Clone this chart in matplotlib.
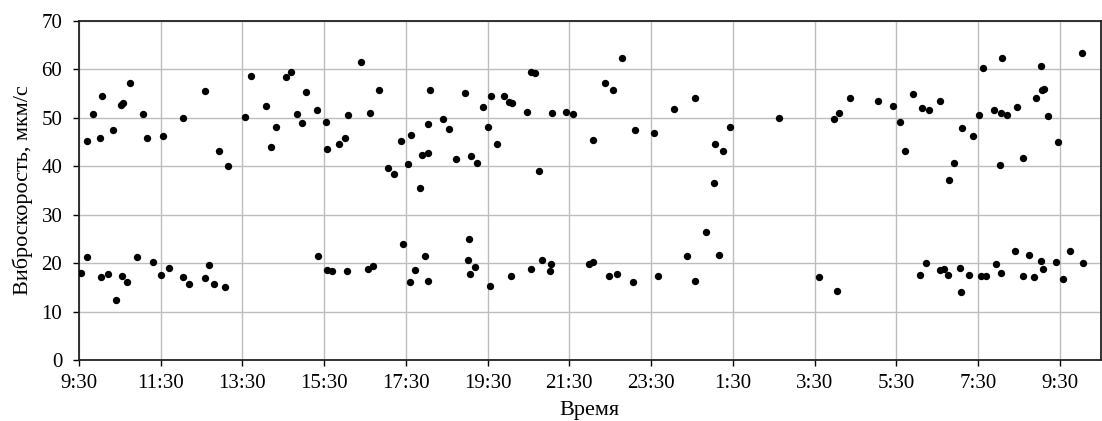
import matplotlib.pyplot as plt
import numpy as np

# hours since 9:30 and vibration velocity values (upper and lower groups)
upper_h = [0.20, 0.34, 0.57, 0.51, 0.82, 1.03, 1.07, 1.26, 1.56, 1.67, 2.06, 2.55, 3.09, 3.43, 3.64,
           4.06, 4.21, 4.57, 4.71, 4.82, 5.07, 5.19, 5.34, 5.46, 5.56, 5.83, 6.05, 6.08, 6.36, 6.50,
           6.58, 6.90, 7.11, 7.35, 7.57, 7.70, 7.87, 8.05, 8.13, 8.34, 8.39, 8.53, 8.54, 8.58, 8.91,
           9.06, 9.23, 9.44, 9.60, 9.73, 9.88, 10.01, 10.09, 10.22, 10.41, 10.53, 10.60, 10.97, 11.07,
           11.15, 11.26, 11.58, 11.92, 12.09, 12.58, 12.86, 13.07, 13.29, 13.61, 14.08, 14.57, 15.08,
           15.54, 15.57, 15.75, 15.94, 17.14, 18.47, 18.59, 18.88, 19.55, 19.91, 20.08, 20.21, 20.42,
           20.64, 20.81, 21.08, 21.28, 21.41, 21.61, 21.89, 22.02, 22.12, 22.39, 22.55, 22.56, 22.60,
           22.70, 22.96, 23.11, 23.42, 23.53, 23.57, 23.62, 23.71, 23.95, 24.55]
upper_v = [45.2, 50.9, 54.6, 45.9, 47.5, 52.6, 53.1, 57.3, 50.7, 45.9, 46.2, 49.9, 55.5, 43.2, 40.1,
           50.2, 58.6, 52.5, 44.0, 48.1, 58.4, 59.5, 50.7, 48.9, 55.3, 51.7, 49.1, 43.6, 44.7, 45.8,
           50.5, 61.6, 51.1, 55.8, 39.6, 38.5, 45.2, 40.5, 46.5, 35.6, 42.3, 48.7, 42.7, 55.7, 49.8,
           47.7, 41.6, 55.2, 42.1, 40.7, 52.2, 48.1, 54.6, 44.7, 54.6, 53.3, 53.1, 51.2, 59.5,
           59.2, 39.0, 51.0, 51.2, 50.9, 45.4, 57.3, 55.7, 62.4, 47.5, 46.9, 51.8, 54.1,
           36.5, 44.6, 43.2, 48.1, 50.0, 49.7, 51.0, 54.2, 53.5, 52.4, 49.1, 43.2, 55.0,
           52.0, 51.7, 53.5, 37.2, 40.7, 48.0, 46.2, 50.5, 60.4, 51.7, 40.3, 51.0, 62.4,
           50.5, 52.2, 41.7, 54.1, 60.7, 55.8, 56.0, 50.4, 45.1, 63.5]

lower_h = [0.05, 0.20, 0.55, 0.70, 0.91, 1.05, 1.18, 1.42, 1.80, 2.00, 2.19, 2.55, 2.69, 3.08, 3.18,
           3.30, 3.57, 5.85, 6.06, 6.20, 6.56, 7.06, 7.19, 7.92, 8.09, 8.23, 8.47, 8.55, 9.52, 9.55,
           9.58, 9.68, 10.06, 10.57, 11.07, 11.33, 11.52, 11.56, 12.49, 12.57, 12.96, 13.17, 13.55,
           14.18, 14.88, 15.08, 15.35, 15.67, 18.11, 18.55, 20.57, 20.73, 21.06, 21.18, 21.26, 21.57,
           21.59, 21.79, 22.08, 22.19, 22.44, 22.56, 22.91, 23.09, 23.26, 23.36, 23.53, 23.59, 23.91,
           24.09, 24.24, 24.56]
lower_v = [17.9, 21.3, 17.1, 17.7, 12.4, 17.3, 16.1, 21.2, 20.2, 17.6, 18.9, 17.1, 15.7, 16.9, 19.6,
           15.7, 15.1, 21.5, 18.6, 18.4, 18.4, 18.7, 19.5, 24.0, 16.0, 18.6, 21.5, 16.3, 20.6, 25.0,
           17.8, 19.2, 15.3, 17.4, 18.7, 20.6, 18.4, 19.9, 19.9, 20.2, 17.4, 17.8, 16.0,
           17.4, 21.5, 16.3, 26.4, 21.7, 17.2, 14.2, 17.6, 20.0, 18.5, 18.7, 17.6, 19.0,
           14.0, 17.6, 17.4, 17.3, 19.8, 18.0, 22.6, 17.4, 21.7, 17.1, 20.4, 18.7, 20.2,
           16.8, 22.6, 20.0]

tick_labels = ['9:30', '11:30', '13:30', '15:30', '17:30', '19:30', '21:30',
               '23:30', '1:30', '3:30', '5:30', '7:30', '9:30']

plt.rcParams['font.family'] = ['Liberation Serif', 'DejaVu Serif']

fig = plt.figure(figsize=(11.02, 4.21), dpi=100)
ax = fig.add_axes([0.0717, 0.145, 0.927, 0.805])

ax.scatter(upper_h, upper_v, s=28, color='black', zorder=3, linewidths=0)
ax.scatter(lower_h, lower_v, s=28, color='black', zorder=3, linewidths=0)

ax.set_xlim(0, 25)
ax.set_ylim(0, 70)
ax.set_xticks(np.arange(0, 25, 2))
ax.set_xticklabels(tick_labels)
ax.set_yticks(np.arange(0, 71, 10))
ax.grid(color='#bdbdbd', linewidth=1.0)
ax.set_axisbelow(True)
ax.tick_params(direction='out', length=4, width=1, labelsize=15, pad=6)
ax.tick_params(axis='y', pad=8)
for s in ax.spines.values():
    s.set_linewidth(1.3)
    s.set_color('#222222')

ax.set_xlabel('Время', fontsize=16, labelpad=6)
ax.set_ylabel('Виброскорость, мкм/с', fontsize=16, labelpad=6)

fig.savefig('out.png', dpi=100)
